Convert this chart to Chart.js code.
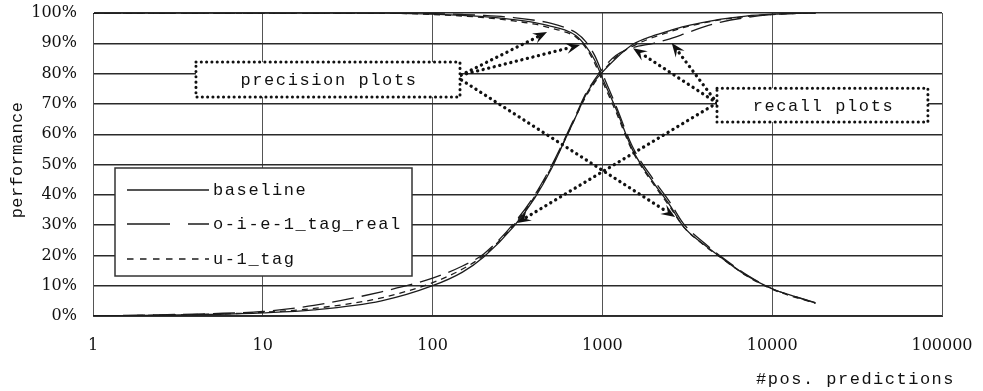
<!DOCTYPE html>
<html lang="en">
<head>
<meta charset="UTF-8">
<title>Precision / recall vs. #pos. predictions</title>
<script src="https://cdn.jsdelivr.net/npm/chart.js"></script>
<style>
    html, body {
        margin: 0;
        padding: 0;
        background: #ffffff;
        overflow: hidden;
    }
    #wrap {
        position: relative;
        width: 983px;
        height: 391px;
    }
</style>
</head>
<body>
<div id="wrap"><canvas id="chart"></canvas></div>
<script>
    // x positions shared by every curve (#pos. predictions)
    const predictions = [1, 2, 5, 10, 20, 50, 100, 150, 200, 300, 400, 500, 600, 700, 800, 900, 1000, 1200, 1500, 2000, 2500, 3000, 4000, 5000, 7000, 10000, 14000, 18000];

    // precision curves (%)
    const baselinePrecision = [100, 100, 100, 100, 100, 100, 99.6, 99.2, 98.8, 97.8, 96.8, 95.6, 94.4, 92.5, 89, 84.5, 78.5, 68.5, 55, 44, 36.5, 29.5, 23.4, 19.3, 13.5, 9, 6.2, 4.3];
    const oieRealPrecision  = [100, 100, 100, 100, 100, 100, 99.8, 99.5, 99.2, 98.5, 97.6, 96.6, 95.2, 93.5, 90.5, 86, 80, 69.5, 56, 45, 37.5, 30.5, 24, 19.6, 13.8, 9, 6.2, 4.4];
    const u1Precision       = [100, 100, 100, 100, 100, 100, 99.5, 99, 98.5, 97.4, 96.3, 95, 93.8, 92, 88.5, 83.5, 77.5, 67.5, 54.5, 43.5, 36, 29.5, 23.2, 19.2, 13.4, 8.8, 6, 4.2];

    // recall curves (%)
    const baselineRecall = [0, 0.2, 0.5, 1, 2, 5, 10, 14.5, 19.5, 29.5, 39, 48.5, 58, 66, 73, 77.5, 80.5, 85, 89.5, 92.5, 94.2, 95.5, 97, 98, 99, 99.6, 99.9, 100];
    const oieRealRecall  = [0, 0.3, 0.8, 1.5, 3.5, 8, 12.5, 16.5, 20.5, 30.5, 40, 49.5, 58.5, 66.5, 73.5, 78, 81.5, 86, 88.5, 90, 91.5, 93, 95.5, 97, 98.5, 99.5, 99.9, 100];
    const u1Recall       = [0, 0.2, 0.6, 1.2, 2.5, 6, 11, 15.5, 20, 30, 39.5, 49, 58, 66, 72.5, 77, 80.5, 85.5, 89, 92, 93.8, 95.2, 96.8, 97.8, 98.8, 99.5, 99.9, 100];

    const yTicks = [0, 10, 20, 30, 40, 50, 60, 70, 80, 90, 100];
    const xTicks = [1, 10, 100, 1000, 10000, 100000];

    const legendItems = [
        { label: 'baseline', dash: [] },
        { label: 'o-i-e-1_tag_real', dash: [43, 18] },
        { label: 'u-1_tag', dash: [6.5, 6.5] }
    ];

    // callouts, anchored in data space (x = #predictions, y = %)
    const callouts = [
        {
            text: 'precision plots', box: [4.04, 145, 83.8, 72.3],
            arrows: [[147, 79.5, 472, 93.7], [147, 79.5, 738, 89.4], [148, 77.9, 2680, 32.7]]
        },
        {
            text: 'recall plots', box: [4730, 82600, 75.2, 64],
            arrows: [[4730, 70.3, 1515, 88.4], [4730, 70.3, 2560, 90.1], [4730, 70.3, 314, 30.7]]
        }
    ];

    const monoFont = '17px "Liberation Mono", monospace';
    const ink = '#111111';

    function toPoints(values) {
        return predictions.map((x, i) => ({ x: x, y: values[i] }));
    }

    function curve(label, values, dash) {
        return {
            label: label,
            data: toPoints(values),
            borderColor: '#1c1c1c',
            borderWidth: 1.3,
            borderDash: dash,
            pointRadius: 0,
            fill: false,
            cubicInterpolationMode: 'monotone'
        };
    }

    function strokeLine(ctx, x1, y1, x2, y2) {
        ctx.beginPath();
        ctx.moveTo(x1, y1);
        ctx.lineTo(x2, y2);
        ctx.stroke();
    }

    function drawArrow(ctx, x1, y1, x2, y2) {
        const a = Math.atan2(y2 - y1, x2 - x1);
        const len = 14, w = 5.5;
        const bx = x2 - Math.cos(a) * len * 0.7;
        const by = y2 - Math.sin(a) * len * 0.7;
        ctx.setLineDash([0.1, 5.6]);
        strokeLine(ctx, x1, y1, bx, by);
        ctx.setLineDash([]);
        ctx.save();
        ctx.translate(x2, y2);
        ctx.rotate(a);
        ctx.beginPath();
        ctx.moveTo(0, 0);
        ctx.lineTo(-len, -w);
        ctx.lineTo(-len * 0.62, 0);
        ctx.lineTo(-len, w);
        ctx.closePath();
        ctx.fill();
        ctx.restore();
    }

    const calloutPlugin = {
        id: 'callouts',
        afterDatasetsDraw(chart) {
            const ctx = chart.ctx;
            const xs = chart.scales.x, ys = chart.scales.y;
            ctx.save();
            ctx.strokeStyle = ink;
            ctx.fillStyle = ink;
            ctx.lineCap = 'round';
            ctx.lineWidth = 3.3;
            callouts.forEach(c => {
                c.arrows.forEach(a => {
                    drawArrow(ctx, xs.getPixelForValue(a[0]), ys.getPixelForValue(a[1]),
                        xs.getPixelForValue(a[2]), ys.getPixelForValue(a[3]));
                });
            });
            callouts.forEach(c => {
                const l = xs.getPixelForValue(c.box[0]), r = xs.getPixelForValue(c.box[1]);
                const t = ys.getPixelForValue(c.box[2]), b = ys.getPixelForValue(c.box[3]);
                ctx.fillStyle = '#ffffff';
                ctx.fillRect(l, t, r - l, b - t);
                ctx.setLineDash([0.1, 5.2]);
                ctx.lineWidth = 3;
                ctx.strokeRect(l, t, r - l, b - t);
                ctx.setLineDash([]);
                ctx.fillStyle = ink;
                ctx.font = monoFont;
                ctx.letterSpacing = '1.6px';
                ctx.textAlign = 'center';
                ctx.textBaseline = 'middle';
                ctx.fillText(c.text, (l + r) / 2 + 1, (t + b) / 2 + 1);
                ctx.letterSpacing = '0px';
            });
            ctx.restore();
        }
    };

    const legendPlugin = {
        id: 'legendBox',
        afterDatasetsDraw(chart) {
            const ctx = chart.ctx;
            const left = 115, top = 168, right = 412, bottom = 276;
            ctx.save();
            ctx.fillStyle = '#ffffff';
            ctx.fillRect(left, top, right - left, bottom - top);
            ctx.strokeStyle = '#333333';
            ctx.lineWidth = 1.5;
            ctx.strokeRect(left, top, right - left, bottom - top);

            const rows = [190, 224, 259];
            ctx.font = monoFont;
            ctx.letterSpacing = '1.6px';
            ctx.textAlign = 'left';
            ctx.textBaseline = 'middle';
            legendItems.forEach((item, i) => {
                ctx.strokeStyle = '#1c1c1c';
                ctx.lineWidth = 1.3;
                ctx.setLineDash(item.dash);
                strokeLine(ctx, 127, rows[i], 209, rows[i]);
                ctx.setLineDash([]);
                ctx.fillStyle = ink;
                ctx.fillText(item.label, 213, rows[i]);
            });
            ctx.letterSpacing = '0px';
            ctx.restore();
        }
    };

    const axisTitlePlugin = {
        id: 'axisTitles',
        afterDraw(chart) {
            const ctx = chart.ctx;
            ctx.save();
            ctx.fillStyle = ink;
            ctx.font = monoFont;
            ctx.letterSpacing = '1.5px';
            ctx.textAlign = 'right';
            ctx.textBaseline = 'middle';
            ctx.fillText('#pos. predictions', 955, 379);

            ctx.font = '17px "Liberation Mono", monospace';
            ctx.letterSpacing = '0.4px';
            ctx.translate(17, 160);
            ctx.rotate(-Math.PI / 2);
            ctx.textAlign = 'center';
            ctx.fillText('performance', 0, 0);
            ctx.letterSpacing = '0px';
            ctx.restore();
        }
    };

    new Chart(document.getElementById('chart'), {
        type: 'line',
        data: {
            datasets: [
                curve('baseline precision', baselinePrecision, []),
                curve('o-i-e-1_tag_real precision', oieRealPrecision, [22, 8]),
                curve('u-1_tag precision', u1Precision, [6, 5]),
                curve('baseline recall', baselineRecall, []),
                curve('o-i-e-1_tag_real recall', oieRealRecall, [22, 8]),
                curve('u-1_tag recall', u1Recall, [6, 5])
            ]
        },
        options: {
            responsive: true,
            maintainAspectRatio: false,
            animation: false,
            layout: { padding: { top: 13, right: 41, left: 0, bottom: 0 } },
            plugins: {
                legend: { display: false },
                tooltip: { enabled: false }
            },
            scales: {
                x: {
                    type: 'logarithmic',
                    min: 1,
                    max: 100000,
                    afterBuildTicks: scale => { scale.ticks = xTicks.map(v => ({ value: v })); },
                    afterFit: scale => {
                        scale.height = 75;
                        scale.paddingLeft = 0;
                        scale.paddingRight = 0;
                    },
                    ticks: {
                        autoSkip: false,
                        maxRotation: 0,
                        padding: 20,
                        color: ink,
                        font: { family: '"DejaVu Serif", serif', size: 16 },
                        callback: v => String(v)
                    },
                    grid: { color: '#555555', lineWidth: 1, drawTicks: false },
                    border: { display: true, color: '#333333', width: 1 }
                },
                y: {
                    min: 0,
                    max: 100,
                    afterBuildTicks: scale => { scale.ticks = yTicks.map(v => ({ value: v })); },
                    afterFit: scale => {
                        scale.width = 93;
                        scale.paddingTop = 0;
                        scale.paddingBottom = 0;
                    },
                    ticks: {
                        padding: 16,
                        color: ink,
                        font: { family: '"DejaVu Serif", serif', size: 16 },
                        callback: v => v + '%'
                    },
                    grid: { color: '#2a2a2a', lineWidth: 1.4, drawTicks: false },
                    border: { display: true, color: '#555555', width: 1 }
                }
            }
        },
        plugins: [calloutPlugin, legendPlugin, axisTitlePlugin]
    });
</script>
</body>
</html>
